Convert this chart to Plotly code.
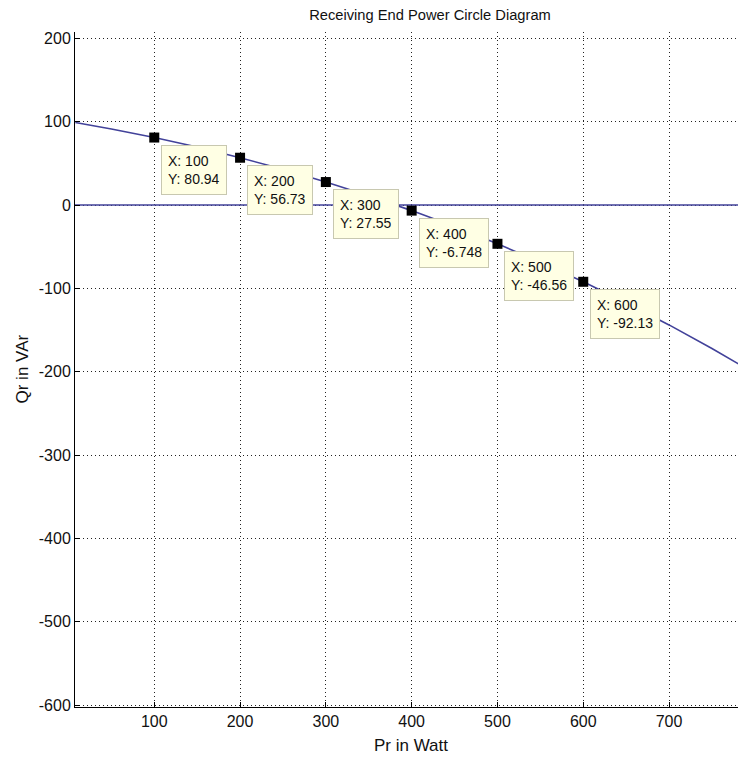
import plotly.graph_objects as go

# Receiving end power circle
pr_watt = [8, 50, 100, 150, 200, 250, 300, 350, 400, 450, 500, 550, 600, 650, 700, 750, 790]
qr_var = [98.9, 91.2, 80.94, 69.5, 56.73, 42.8, 27.55, 11.1, -6.748, -25.9, -46.56,
          -68.6, -92.13, -117.2, -143.9, -172.2, -196.2]

# Horizontal reference line Q = 0
ref_x = [0, 800]
ref_y = [0, 0]

# Data tips
tip_x = [100, 200, 300, 400, 500, 600]
tip_y = [80.94, 56.73, 27.55, -6.748, -46.56, -92.13]
tip_labels = ["80.94", "56.73", "27.55", "-6.748", "-46.56", "-92.13"]

x_ticks = [100, 200, 300, 400, 500, 600, 700]
x_tick_text = ["100", "200", "300", "400", "500", "600", "700"]
y_ticks = [-600, -500, -400, -300, -200, -100, 0, 100, 200]
y_tick_text = ["-600", "-500", "-400", "-300", "-200", "-100", "0", "100", "200"]

title_text = "Receiving End Power Circle Diagram"
x_label = "Pr in Watt"
y_label = "Qr in VAr"

FONT = "Liberation Sans, Arial, sans-serif"
LINE_COLOR = "#42429a"
TXT = "#111111"

fig = go.Figure()
fig.add_trace(go.Scatter(x=ref_x, y=ref_y, mode="lines",
                         line=dict(color=LINE_COLOR, width=1.6), hoverinfo="skip"))
fig.add_trace(go.Scatter(x=pr_watt, y=qr_var, mode="lines",
                         line=dict(color=LINE_COLOR, width=1.6), hoverinfo="skip"))
fig.add_trace(go.Scatter(x=tip_x, y=tip_y, mode="markers",
                         marker=dict(symbol="square", size=10, color="black"),
                         hoverinfo="skip"))

annotations = []
for xv, yv, lab in zip(tip_x, tip_y, tip_labels):
    annotations.append(dict(
        x=xv, y=yv, xref="x", yref="y",
        text=f"X: {xv}<br>Y: {lab}",
        showarrow=False, xanchor="left", yanchor="top", align="left",
        xshift=7, yshift=-7, height=36,
        bgcolor="#ffffe4", bordercolor="#c8c8b0", borderwidth=1, borderpad=6,
        font=dict(family=FONT, size=14, color=TXT),
    ))

annotations.append(dict(text=x_label, xref="paper", yref="paper", x=0.5, y=0,
                        yshift=-38, showarrow=False, xanchor="center", yanchor="middle",
                        font=dict(family=FONT, size=17, color=TXT)))
annotations.append(dict(text=y_label, xref="paper", yref="paper", x=0, y=0.5,
                        xshift=-53, showarrow=False, xanchor="center", yanchor="middle",
                        textangle=-90, font=dict(family=FONT, size=17, color=TXT)))

axis_common = dict(
    showline=True, linecolor="black", linewidth=1, mirror=False,
    ticks="inside", ticklen=5, tickcolor="black", tickwidth=1,
    showgrid=True, gridcolor="#222222", gridwidth=1, griddash="1px,3px",
    zeroline=False,
    tickfont=dict(family=FONT, size=16, color=TXT),
)

# The page body adds an 8px offset; the figure is sized/placed to compensate.
fig.update_layout(
    width=738, height=749,
    margin=dict(l=67, r=0, t=24, b=50),
    paper_bgcolor="white", plot_bgcolor="white",
    showlegend=False,
    title=dict(text=title_text, x=422 / 738, xanchor="center", xref="container",
               y=1 - 7 / 749, yanchor="middle", yref="container",
               font=dict(family=FONT, size=14.7, color=TXT)),
    xaxis=dict(range=[7.6, 789.7], tickvals=x_ticks, ticktext=x_tick_text, **axis_common),
    yaxis=dict(range=[-602.4, 207.6], tickvals=y_ticks, ticktext=y_tick_text, **axis_common),
    annotations=annotations,
)

fig.write_html("out.html")
